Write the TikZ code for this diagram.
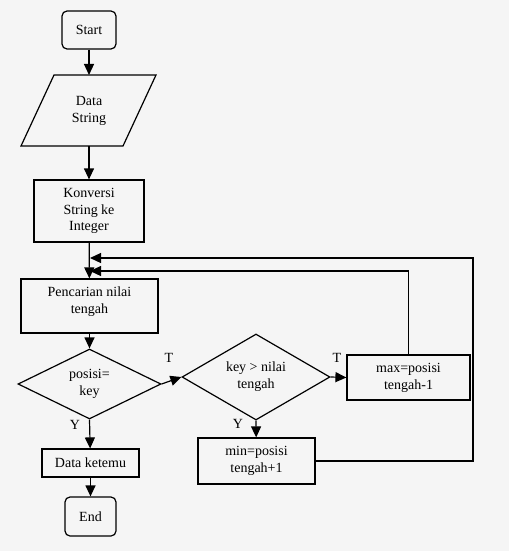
\documentclass[tikz,border=0pt]{standalone}
\usepackage{fontspec}
\setmainfont{Liberation Serif}
\usetikzlibrary{shapes.geometric,arrows.meta}
\begin{document}
\begin{tikzpicture}[x=1pt,y=-1pt,
  every node/.style={font=\fontsize{14}{16.8}\selectfont, align=center, inner sep=0pt},
  box/.style={draw, line width=1.2pt, rectangle},
  term/.style={draw, line width=1.2pt, rounded corners=5pt},
  dec/.style={draw, line width=1.2pt, diamond, shape aspect=2},
  conn/.style={line width=1.2pt, -{Triangle[length=11pt,width=10pt]}},
  plain/.style={line width=1.2pt},
  lbl/.style={font=\fontsize{14}{16.8}\selectfont}]
\fill[black!4] (0,0) rectangle (509,551);
\useasboundingbox (0,0) rectangle (509,551);

\node[term, minimum width=54pt, minimum height=38pt] (start) at (89,30) {Start};
\draw[plain] (54,75) -- (156,75) -- (123,146) -- (21,146) -- cycle;
\node (data) at (89,111) {Data\\String};
\coordinate (datatop) at (89,75);
\coordinate (databot) at (89,146);
\node[box, minimum width=110pt, minimum height=62pt] (konv) at (89,211) {Konversi\\String ke\\Integer};
\node[box, minimum width=137pt, minimum height=54pt] (cari) at (89.5,306) {};
\node (caritext) at (89.5,302) {Pencarian nilai\\tengah};
\node[dec, minimum width=143pt, minimum height=70pt] (posisi) at (89.5,384) {posisi=\\key};
\node[dec, minimum width=148pt, minimum height=86pt] (keyd) at (256,377) {key > nilai\\tengah};
\node[box, minimum width=123pt, minimum height=45pt] (max) at (408.5,377.5) {max=posisi\\tengah-1};
\node[box, minimum width=117pt, minimum height=46pt] (min) at (256.5,461) {min=posisi\\tengah+1};
\node[box, minimum width=97pt, minimum height=28pt] (ketemu) at (90.5,463) {Data ketemu};
\node[term, minimum width=51pt, minimum height=39pt] (end) at (90.5,516.5) {End};

\node[lbl] (t1) at (169,358) {T};
\node[lbl] (t2) at (337,358) {T};
\node[lbl] (y1) at (75,425) {Y};
\node[lbl] (y2) at (238,424) {Y};

\draw[conn] (start) -- (datatop);
\draw[conn] (databot) -- (konv);
\draw[conn] (konv) -- (cari);
\draw[conn] (cari) -- (posisi);
\draw[conn] (posisi.south) -- (ketemu);
\draw[conn] (ketemu) -- (end);
\draw[conn] (posisi.east) -- (keyd.west);
\draw[conn] (keyd.east) -- (max.west);
\draw[conn] (keyd.south) -- (min);
\coordinate (in1) at (90,258);
\coordinate (in2) at (90,271);
\draw[conn] (min.east) -- (473,461) -- (473,258) -- (in1);
\draw[conn] (max.north) -- (max.north |- in2) -- (in2);
\end{tikzpicture}
\end{document}
